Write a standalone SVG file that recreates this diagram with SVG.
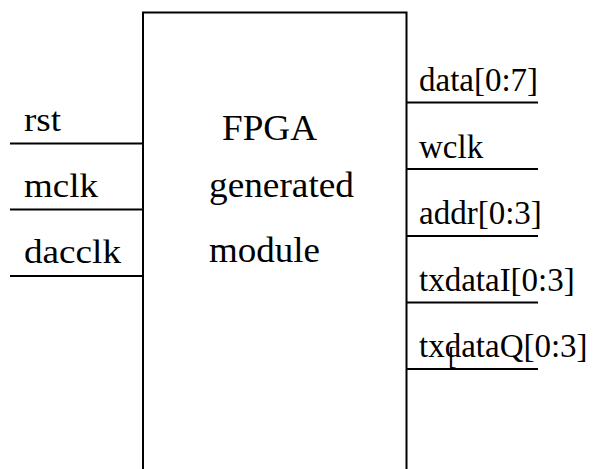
<svg xmlns="http://www.w3.org/2000/svg" width="611" height="469" viewBox="0 0 611 469">
  <style>
    .pin { stroke: #000; stroke-width: 2; fill: none; }
    .lbl { font-family: "Liberation Serif", "Times New Roman", serif; font-size: 33px; fill: #000; }
    .left { font-size: 34px; }
    .mid { font-size: 36px; }
  </style>
  <rect width="611" height="469" fill="#fff"/>
  <!-- module body: open at the bottom -->
  <g id="fpga-module">
    <path class="pin" d="M143,480 V12.5 H406.5 V480"/>
    <text class="lbl mid" x="222" y="140" textLength="95" lengthAdjust="spacingAndGlyphs">FPGA</text>
    <text class="lbl mid" x="209" y="197" textLength="145" lengthAdjust="spacingAndGlyphs">generated</text>
    <text class="lbl mid" x="209" y="262" textLength="111" lengthAdjust="spacingAndGlyphs">module</text>
  </g>
  <g id="connectors">
    <line class="pin" x1="10" y1="143.5" x2="143" y2="143.5"/>
    <line class="pin" x1="10" y1="209.5" x2="143" y2="209.5"/>
    <line class="pin" x1="10" y1="276" x2="143" y2="276"/>
    <line class="pin" x1="406.5" y1="102.5" x2="538" y2="102.5"/>
    <line class="pin" x1="406.5" y1="169" x2="538" y2="169"/>
    <line class="pin" x1="406.5" y1="236" x2="538" y2="236"/>
    <line class="pin" x1="406.5" y1="302.5" x2="538" y2="302.5"/>
    <line class="pin" x1="406.5" y1="369" x2="538" y2="369"/>
  </g>
  <g id="in-rst"><text class="lbl left" x="24" y="131" textLength="37" lengthAdjust="spacingAndGlyphs">rst</text></g>
  <g id="in-mclk"><text class="lbl left" x="24" y="197" textLength="74" lengthAdjust="spacingAndGlyphs">mclk</text></g>
  <g id="in-dacclk"><text class="lbl left" x="24" y="263" textLength="97" lengthAdjust="spacingAndGlyphs">dacclk</text></g>
  <g id="out-data"><text class="lbl" x="419" y="91">data[0:7]</text></g>
  <g id="out-wclk"><text class="lbl" x="419" y="158">wclk</text></g>
  <g id="out-addr"><text class="lbl" x="419" y="224">addr[0:3]</text></g>
  <g id="out-txdataI"><text class="lbl" x="419" y="291">txdataI[0:3]</text></g>
  <g id="out-txdataQ">
    <text class="lbl" x="419" y="357">txdataQ[0:3]</text>
    <text class="lbl" x="448" y="364" style="font-size:26px">[</text>
  </g>
</svg>
